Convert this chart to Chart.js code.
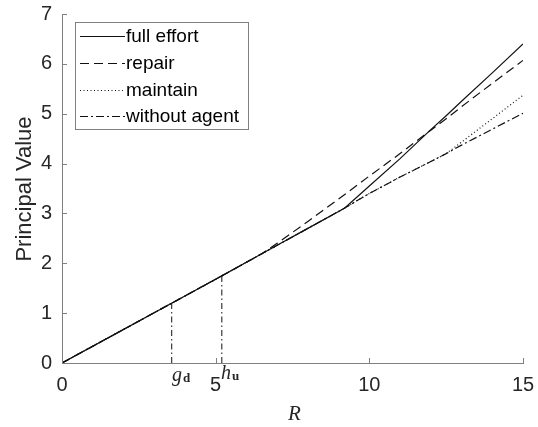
<!DOCTYPE html>
<html>
<head>
<meta charset="utf-8">
<script src="https://cdn.jsdelivr.net/npm/chart.js@4"></script>
<style>
  html, body { margin: 0; padding: 0; background: #fff; }
  #wrap { width: 538px; height: 427px; position: relative; }
</style>
</head>
<body>
<div id="wrap"><canvas id="chart"></canvas></div>
<script>
// values
const rValues = [0, 5, 6, 6.5, 7, 8, 9, 9.2, 10, 11, 12, 12.5, 13, 14, 15];
const fullEffort = [0, 1.68, 2.02, 2.19, 2.36, 2.7, 3.04, 3.11, 3.55, 4.1, 4.68, 4.96, 5.25, 5.82, 6.4];
const repair = [0, 1.68, 2.02, 2.19, 2.4, 2.84, 3.29, 3.38, 3.75, 4.2, 4.67, 4.9, 5.14, 5.61, 6.07];
const maintain = [0, 1.68, 2.02, 2.19, 2.36, 2.7, 3.04, 3.11, 3.4, 3.73, 4.04, 4.2, 4.43, 4.9, 5.37];
const withoutAgent = [0, 1.68, 2.02, 2.19, 2.36, 2.7, 3.04, 3.11, 3.4, 3.73, 4.04, 4.2, 4.37, 4.69, 5.01];
const seriesNames = ['full effort', 'repair', 'maintain', 'without agent'];

// the two thresholds marked under the axis
const markerR = [3.57, 5.2];
const markerTop = [1.2, 1.75];
const markerSymbols = [['g', 'd'], ['h', 'u']];

const xTicks = [0, 5, 10, 15];
const yTicks = [0, 1, 2, 3, 4, 5, 6, 7];

const axisGray = '#808080';
const textColor = '#262626';
const serif = '"Liberation Serif", "DejaVu Serif", serif';
const sans = '"Liberation Sans", Arial, sans-serif';

const dashes = [[], [9, 5], [1, 2.5], [8, 3, 2, 3]];

function toPoints(ys) {
    return rValues.map((r, i) => ({ x: r, y: ys[i] }));
}

const lineSets = [fullEffort, repair, maintain, withoutAgent].map((ys, i) => ({
    label: seriesNames[i],
    data: toPoints(ys),
    borderColor: '#111',
    borderWidth: 1.2,
    borderDash: dashes[i],
    pointRadius: 0,
    tension: 0,
    fill: false
}));

const markerSets = markerR.map((r, i) => ({
    label: 'marker' + i,
    data: [{ x: r, y: 0 }, { x: r, y: markerTop[i] }],
    borderColor: '#111',
    borderWidth: 1,
    borderDash: [6, 3, 1.5, 3],
    pointRadius: 0,
    fill: false
}));

// inward ticks, axis titles, marker labels and the boxed legend
const decorations = {
    id: 'decorations',
    afterDraw(chart) {
        const { ctx, chartArea, scales } = chart;
        const xs = scales.x, ys = scales.y;
        ctx.save();

        ctx.strokeStyle = axisGray;
        ctx.lineWidth = 1;
        ctx.setLineDash([]);
        xTicks.forEach(t => {
            const px = Math.round(xs.getPixelForValue(t)) + 0.5;
            ctx.beginPath();
            ctx.moveTo(px, chartArea.bottom);
            ctx.lineTo(px, chartArea.bottom - 5);
            ctx.stroke();
        });
        yTicks.forEach(t => {
            const py = Math.round(ys.getPixelForValue(t)) + 0.5;
            ctx.beginPath();
            ctx.moveTo(chartArea.left, py);
            ctx.lineTo(chartArea.left + 5, py);
            ctx.stroke();
        });

        // y title
        ctx.fillStyle = textColor;
        ctx.font = '22px ' + sans;
        ctx.textAlign = 'center';
        ctx.textBaseline = 'alphabetic';
        ctx.save();
        ctx.translate(31, 189);
        ctx.rotate(-Math.PI / 2);
        ctx.fillText('Principal Value', 0, 0);
        ctx.restore();

        // x title
        ctx.font = 'italic 21px ' + serif;
        ctx.fillText('R', (chartArea.left + chartArea.right) / 2 + 2, 420);

        // g_d and h_u
        ctx.textAlign = 'left';
        const mainX = [172, 221];
        const baseY = [381, 379];
        markerR.forEach((r, i) => {
            const [main, sub] = markerSymbols[i];
            ctx.font = 'italic 20px ' + serif;
            ctx.fillText(main, mainX[i], baseY[i]);
            const w = ctx.measureText(main).width;
            ctx.font = 'bold 13px ' + serif;
            ctx.fillText(sub, mainX[i] + w + 1, baseY[i] + 1);
        });

        // legend
        const box = { x: 75.5, y: 22.5, w: 173, h: 107 };
        ctx.fillStyle = '#fff';
        ctx.fillRect(box.x, box.y, box.w, box.h);
        ctx.strokeStyle = axisGray;
        ctx.strokeRect(box.x, box.y, box.w, box.h);
        const rowY = [36, 63, 90, 116];
        ctx.font = '19px ' + sans;
        ctx.textBaseline = 'middle';
        seriesNames.forEach((name, i) => {
            ctx.strokeStyle = '#111';
            ctx.lineWidth = 1.2;
            ctx.setLineDash(dashes[i]);
            ctx.beginPath();
            ctx.moveTo(80, rowY[i] + 0.5);
            ctx.lineTo(125, rowY[i] + 0.5);
            ctx.stroke();
            ctx.setLineDash([]);
            ctx.fillStyle = '#000';
            ctx.fillText(name, 126, rowY[i] + 1);
        });

        ctx.restore();
    }
};

new Chart(document.getElementById('chart'), {
    type: 'line',
    data: { datasets: [...lineSets, ...markerSets] },
    options: {
        responsive: true,
        maintainAspectRatio: false,
        animation: false,
        layout: { padding: { top: 14, right: 15, left: 0, bottom: 0 } },
        plugins: {
            legend: { display: false },
            tooltip: { enabled: false }
        },
        scales: {
            x: {
                type: 'linear',
                min: 0,
                max: 15,
                afterFit: s => { s.height = 64; s.paddingRight = 0; s.paddingLeft = 0; },
                afterBuildTicks: s => { s.ticks = xTicks.map(v => ({ value: v })); },
                grid: { display: false, drawTicks: false },
                border: { display: true, color: axisGray, width: 1 },
                ticks: { color: textColor, padding: 10, font: { family: sans, size: 20 } }
            },
            y: {
                min: 0,
                max: 7,
                afterFit: s => { s.width = 62; s.paddingTop = 0; s.paddingBottom = 0; },
                afterBuildTicks: s => { s.ticks = yTicks.map(v => ({ value: v })); },
                grid: { display: false, drawTicks: false },
                border: { display: true, color: axisGray, width: 1 },
                ticks: { color: textColor, padding: 10, font: { family: sans, size: 20 } }
            }
        }
    },
    plugins: [decorations]
});
</script>
</body>
</html>
